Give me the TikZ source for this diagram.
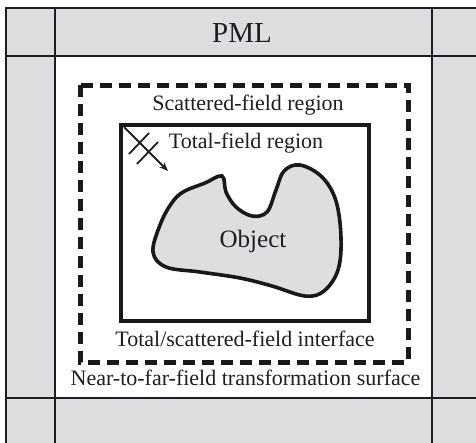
\documentclass[tikz,border=0pt]{standalone}
\usepackage{fontspec}
\setmainfont{Liberation Serif}
\usetikzlibrary{arrows.meta}
\definecolor{pmlgray}{RGB}{222,222,224}
\definecolor{inkgray}{RGB}{30,30,36}

\begin{document}
\begin{tikzpicture}[x=1pt, y=-1pt, >={Stealth[length=9pt, width=7pt]},
    gridline/.style={draw=inkgray, line width=2.5pt},
    caption/.style={text=inkgray, inner sep=0pt, anchor=base, font=\fontsize{22}{24}\selectfont}]
  % 1. picture frame (the outer PML cells run past the right and bottom edges)
  \useasboundingbox (0,0) rectangle (476,442);

  % 2. PML cells and grid lines
  \fill[pmlgray] (6,8) rectangle (481,446);
  \fill[white] (55,56) rectangle (432,398);
  \draw[gridline] (6,8) rectangle (481,446);
  \draw[gridline] (55,8) -- (55,446);
  \draw[gridline] (432,8) -- (432,446);
  \draw[gridline] (6,56) -- (481,56);
  \draw[gridline] (6,398) -- (481,398);
  \node[caption, font=\fontsize{29}{31}\selectfont] (pml) at (242,42) {PML};

  % 3. near-to-far-field surface (dashed) and total/scattered interface (solid)
  \draw[draw=black!90, line width=5pt, dash pattern=on 12pt off 7pt] (80,85) rectangle (408,362);
  \draw[draw=black!90, line width=4.6pt] (121,125) rectangle (369,321);
  \node[caption] (scat) at (248,110) {Scattered-field region};
  \node[caption] (tot) at (246,148) {Total-field region};
  \node[caption] (tsfi) at (245,346) {Total/scattered-field interface};
  \node[caption] (ntff) at (245.5,385) {Near-to-far-field transformation surface};

  % 4. incident plane wave
  \coordinate (wstart) at (124,127);
  \coordinate (wend) at (168,171);
  \draw[->, line width=1.8pt, draw=inkgray] (wstart) -- (wend);
  \draw[line width=1.8pt, draw=inkgray] (129,154) -- (149,133);
  \draw[line width=1.8pt, draw=inkgray] (137,164) -- (158,142);

  % 5. scattering object
  \filldraw[fill=pmlgray, draw=black!90, line width=3.6pt]
    plot[smooth cycle, tension=0.6] coordinates {(183,192) (205,183) (222,176) (226,192)
      (236,207) (252,216) (267,212) (276,190) (284,171) (300,165) (322,177) (336,201)
      (341,238) (338,270) (324,291) (305,296) (272,286) (240,278) (200,272) (166,267)
      (153,252) (160,225) (171,204)};
  \node[caption, font=\fontsize{25}{27}\selectfont] (obj) at (253,247) {Object};
\end{tikzpicture}
\end{document}
